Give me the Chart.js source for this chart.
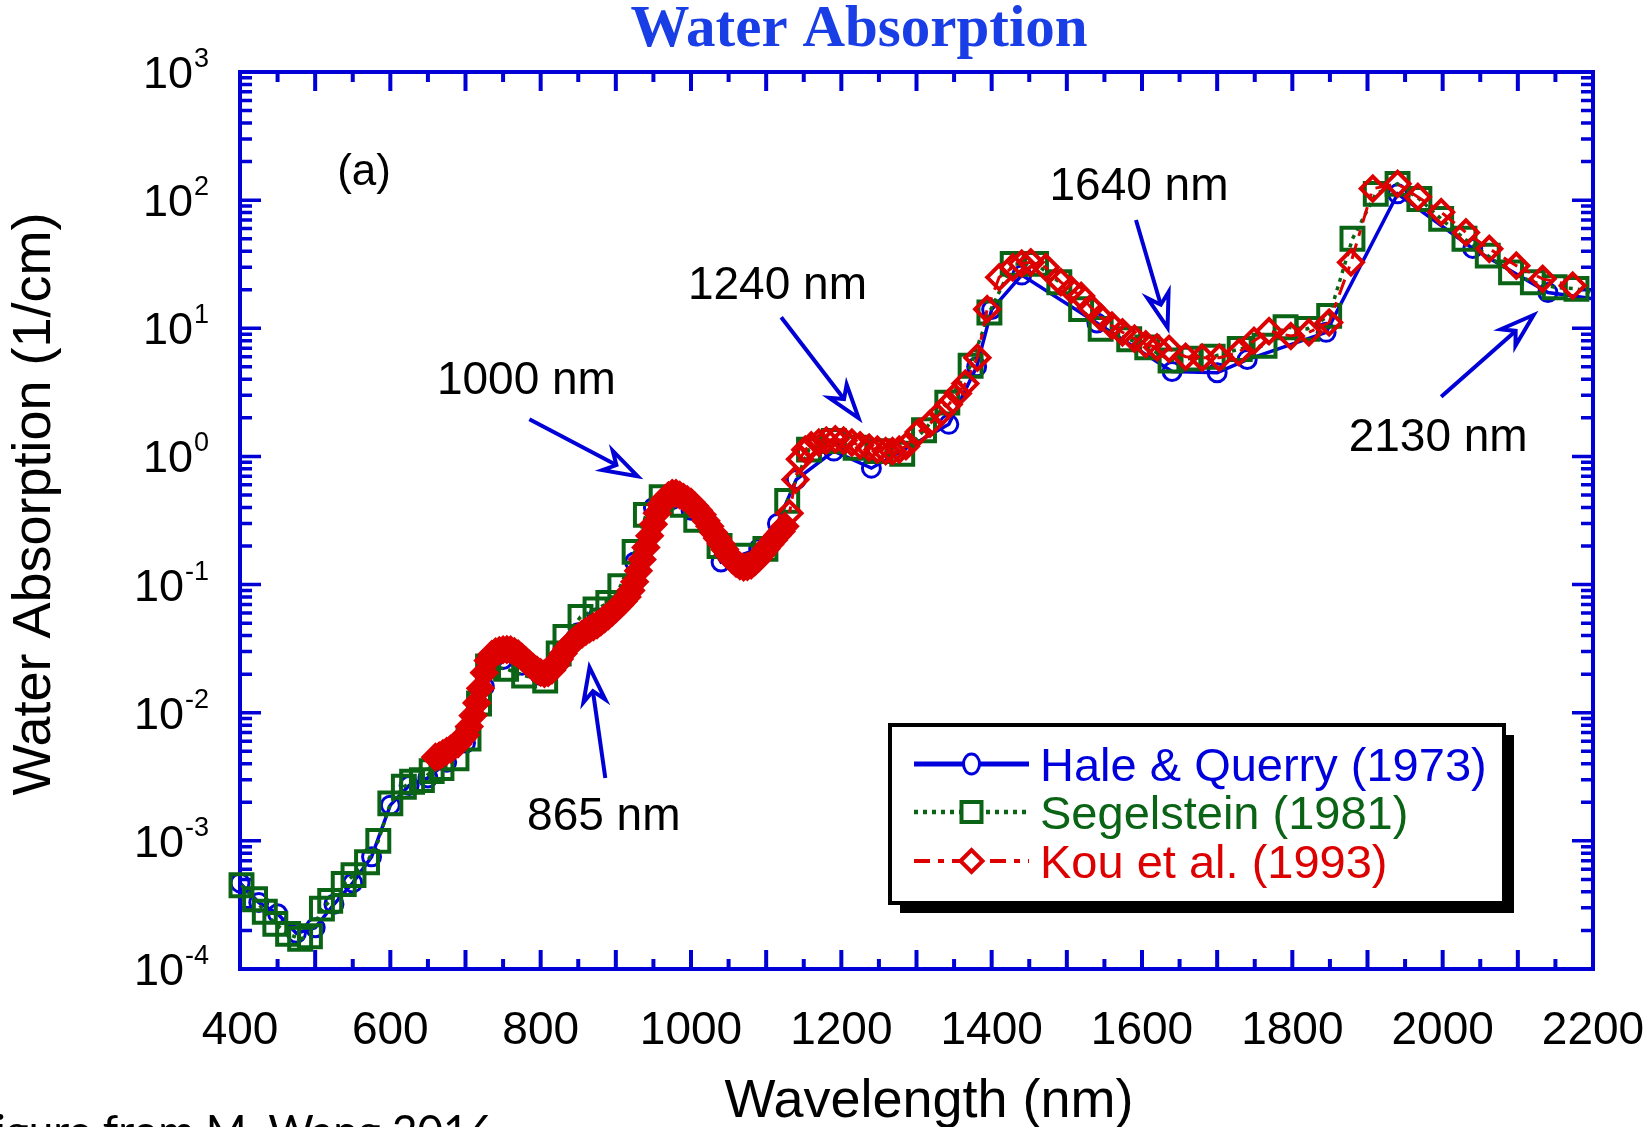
<!DOCTYPE html>
<html><head><meta charset="utf-8">
<script src="https://cdn.jsdelivr.net/npm/chart.js@4.4.0/dist/chart.umd.min.js"></script>
<style>html,body{margin:0;padding:0;background:#fff;overflow:hidden}canvas{display:block}</style>
</head><body>
<canvas id="c" width="1647" height="1127"></canvas>
<script>
// ---------------- data ----------------
const hqWavelength = [400,425,450,475,500,525,550,575,600,625,650,675,700,725,750,775,800,825,850,875,900,925,950,975,1000,1040,1090,1115,1140,1190,1240,1343,1380,1400,1440,1540,1640,1700,1740,1845,1940,2040,2140,2200];
const hqAbsorption = [4.7e-4,3.3e-4,2.7e-4,1.9e-4,2.1e-4,3.2e-4,4.7e-4,7.5e-4,1.9e-3,2.7e-3,3.1e-3,4.1e-3,5.8e-3,0.016,0.026,0.0235,0.0195,0.027,0.042,0.055,0.068,0.15,0.40,0.46,0.38,0.15,0.19,0.30,0.66,1.1,0.81,1.78,5.0,14,26,11,4.6,4.5,5.7,9.3,112,42,19,17];

const segWavelength = [402,420,433,447,464,480,493,509,520,538,551,569,584,600,618,629,642,655,668,688,704,718,730,754,778,806,824,833,853,873,890,906,925,940,961,989,1007,1038,1068,1099,1128,1157,1190,1219,1248,1281,1310,1341,1372,1397,1428,1459,1490,1519,1545,1583,1607,1638,1663,1694,1730,1763,1791,1820,1849,1880,1911,1940,1969,1998,2029,2060,2091,2120,2149,2178,2200];
const segAbsorption = [4.5e-4,3.5e-4,2.8e-4,2.25e-4,1.88e-4,1.72e-4,1.8e-4,2.96e-4,3.4e-4,4.6e-4,5.4e-4,6.8e-4,1.0e-3,1.96e-3,2.64e-3,2.89e-3,2.98e-3,3.5e-3,3.7e-3,4.4e-3,6.3e-3,0.0118,0.023,0.022,0.0195,0.0178,0.029,0.039,0.056,0.064,0.072,0.097,0.18,0.35,0.48,0.42,0.32,0.20,0.168,0.19,0.45,1.13,1.32,1.17,1.10,1.05,1.60,2.63,5.1,13.3,31.8,31.8,22.9,14.1,9.9,8.2,7.1,5.6,5.8,6.0,6.9,7.3,10.2,9.9,12.5,49.9,112,134,102,71.4,49.9,36.9,27.3,22.9,20.9,20.3,19.0];

const kouWavelength = [660,665,670,675,680,685,690,695,700,705,710,715,720,725,730,735,740,745,750,755,760,765,770,775,780,785,790,795,800,805,810,815,820,825,830,835,840,845,850,855,860,865,870,875,880,885,890,895,900,905,910,915,920,925,930,935,940,945,950,955,960,965,970,975,980,985,990,995,1000,1005,1010,1015,1020,1025,1030,1035,1040,1045,1050,1055,1060,1065,1070,1075,1080,1085,1090,1095,1100,1105,1110,1115,1120,1125,1131,1139,1145,1152,1160,1170,1180,1192,1203,1214,1225,1237,1248,1259,1268,1277,1286,1303,1318,1333,1343,1355,1365,1381,1394,1410,1428,1440,1452,1472,1492,1506,1519,1532,1545,1560,1574,1590,1605,1620,1636,1658,1680,1703,1729,1749,1769,1798,1822,1849,1878,1907,1940,1967,1998,2031,2062,2098,2133,2173];
const kouAbsorption = [0.0045,0.0046,0.0048,0.0050,0.0052,0.0055,0.0057,0.0062,0.0067,0.0078,0.0095,0.0119,0.0155,0.0205,0.0255,0.0285,0.0298,0.0305,0.0310,0.0311,0.0310,0.0300,0.0288,0.0272,0.0255,0.0240,0.0226,0.0215,0.0206,0.0202,0.0205,0.0215,0.0235,0.0262,0.0290,0.0318,0.0345,0.0368,0.0390,0.0410,0.0430,0.0450,0.0468,0.0485,0.0510,0.0540,0.0570,0.0605,0.0645,0.0690,0.0740,0.0800,0.0900,0.1050,0.1280,0.1570,0.1950,0.2400,0.2950,0.3600,0.4200,0.4650,0.4950,0.5150,0.5150,0.5000,0.4800,0.4600,0.4400,0.4100,0.3800,0.3500,0.3150,0.2850,0.2550,0.2300,0.2080,0.1880,0.1700,0.1560,0.1460,0.1400,0.1370,0.1380,0.1420,0.1500,0.1610,0.1750,0.1900,0.2060,0.2230,0.2420,0.2600,0.2850,0.36,0.66,0.95,1.13,1.22,1.28,1.33,1.36,1.33,1.28,1.22,1.17,1.13,1.10,1.10,1.13,1.20,1.55,1.80,2.20,2.55,3.10,3.70,5.9,14.1,25,29.9,32,32.7,29.9,22.9,20,17.9,14.5,12.2,10.5,9.3,8.3,7.5,7.1,6.9,6.0,5.9,5.9,6.5,8.0,9.5,8.7,9.3,11.1,32.7,123,134,106,80.6,56,41.7,30.8,24.3,21.5];

const seriesLabels = ['Hale & Querry (1973)','Segelstein (1981)','Kou et al. (1993)'];
const xTickLabels = [400,600,800,1000,1200,1400,1600,1800,2000,2200];
const yTickExponents = [-4,-3,-2,-1,0,1,2,3];

// annotations (data coordinates: wavelength, absorption)
const noteTexts = ['1000 nm','1240 nm','1640 nm','2130 nm','865 nm'];
const noteTextAt = [[781,3.06],[1115,16.9],[1596,100],[1994,1.10],[884,1.21e-3]];
const arrowTail = [[785,1.95],[1120,12.2],[1592,70],[1998,2.92],[886,3.09e-3]];
const arrowTip  = [[929,0.70],[1223,1.99],[1634,10.1],[2121,12.7],[865,0.0226]];
const panelTag = '(a)';
const panelTagAt = [565,132];

// ---------------- styles ----------------
const AXIS = '#0000d6';
const BLUE = '#0000dc';
const GREEN = '#0b6416';
const RED = '#dc0000';
const SANS = '"Liberation Sans", Arial, sans-serif';
const DENSE_END = 1126; // Kou markers drawn filled where they crowd into a band

const toXY = (xs, ys) => xs.map((x, i) => ({x, y: ys[i]}));
const edgeRadius = r => c => (c.raw && c.raw.x >= 2200 ? 0 : r);

const framePlugin = {
  id: 'frame',
  beforeDatasetsDraw(chart) {
    const {ctx, chartArea: a, scales: {x, y}} = chart;
    ctx.save();
    ctx.strokeStyle = AXIS;
    ctx.lineCap = 'butt';
    ctx.lineWidth = 4;
    for (let v = 450; v < 2200; v += 50) {
      const px = x.getPixelForValue(v);
      const len = v % 100 === 0 ? 19 : 10;
      ctx.beginPath();
      ctx.moveTo(px, a.bottom); ctx.lineTo(px, a.bottom - len);
      ctx.moveTo(px, a.top); ctx.lineTo(px, a.top + len);
      ctx.stroke();
    }
    ctx.lineWidth = 3.5;
    for (let e = -4; e <= 3; e++) {
      for (let m = 1; m <= 9; m++) {
        const v = m * Math.pow(10, e);
        if (v > 1000.0001) break;
        const py = y.getPixelForValue(v);
        const len = m === 1 ? 21 : 12;
        ctx.beginPath();
        ctx.moveTo(a.left, py); ctx.lineTo(a.left + len, py);
        ctx.moveTo(a.right, py); ctx.lineTo(a.right - len, py);
        ctx.stroke();
      }
    }
    ctx.lineWidth = 4;
    ctx.strokeRect(a.left, a.top, a.right - a.left, a.bottom - a.top);

    ctx.fillStyle = '#000';
    ctx.font = '46px ' + SANS;
    ctx.textAlign = 'center';
    ctx.textBaseline = 'alphabetic';
    xTickLabels.forEach(v => ctx.fillText(String(v), x.getPixelForValue(v), 1044));
    yTickExponents.forEach(e => {
      const py = y.getPixelForValue(Math.pow(10, e));
      ctx.font = '45px ' + SANS;
      const wBase = ctx.measureText('10').width;
      ctx.font = '27px ' + SANS;
      const ex = String(e);
      const wExp = ctx.measureText(ex).width;
      const right = 209;
      const x0 = right - wExp - wBase - 1;
      ctx.textAlign = 'left';
      ctx.font = '45px ' + SANS;
      ctx.fillText('10', x0, py + 16);
      ctx.font = '27px ' + SANS;
      ctx.fillText(ex, x0 + wBase + 1, py - 5);
    });

    ctx.textAlign = 'center';
    ctx.font = '54px ' + SANS;
    ctx.fillText('Wavelength (nm)', 929, 1117);
    ctx.save();
    ctx.translate(50, 504);
    ctx.rotate(-Math.PI / 2);
    ctx.fillText('Water Absorption (1/cm)', 0, 0);
    ctx.restore();

    ctx.fillStyle = '#1a3ee6';
    ctx.font = 'bold 59px "Liberation Serif", "Times New Roman", serif';
    ctx.fillText('Water Absorption', 859, 46);

    ctx.fillStyle = '#000';
    ctx.textAlign = 'right';
    ctx.font = '44px Lato, "Open Sans", sans-serif';
    ctx.fillText('Figure from M. Wang 2016', 494, 1147);
    ctx.restore();
  },
  afterDatasetsDraw(chart) {
    const {ctx, scales: {x, y}} = chart;
    ctx.save();
    ctx.fillStyle = '#000';
    ctx.font = '46px ' + SANS;
    ctx.textAlign = 'center';
    ctx.textBaseline = 'alphabetic';
    noteTexts.forEach((t, i) => ctx.fillText(t, x.getPixelForValue(noteTextAt[i][0]), y.getPixelForValue(noteTextAt[i][1])));
    ctx.font = '44px ' + SANS;
    ctx.fillText(panelTag, x.getPixelForValue(panelTagAt[0]), y.getPixelForValue(panelTagAt[1]));
    ctx.strokeStyle = AXIS;
    ctx.lineWidth = 4;
    ctx.lineJoin = 'miter';
    arrowTail.forEach((t, i) => {
      const x0 = x.getPixelForValue(t[0]), y0 = y.getPixelForValue(t[1]);
      const x1 = x.getPixelForValue(arrowTip[i][0]), y1 = y.getPixelForValue(arrowTip[i][1]);
      const L = Math.hypot(x1 - x0, y1 - y0);
      const dx = (x1 - x0) / L, dy = (y1 - y0) / L;
      const nx = -dy, ny = dx;
      const hl = 34, hw = 11, notch = 24;
      const bx = x1 - dx * hl, by = y1 - dy * hl;
      const kx = x1 - dx * notch, ky = y1 - dy * notch;
      ctx.beginPath();
      ctx.moveTo(x0, y0); ctx.lineTo(kx, ky);
      ctx.stroke();
      ctx.beginPath();
      ctx.moveTo(x1, y1);
      ctx.lineTo(bx + nx * hw, by + ny * hw);
      ctx.lineTo(kx, ky);
      ctx.lineTo(bx - nx * hw, by - ny * hw);
      ctx.closePath();
      ctx.fillStyle = '#fff';
      ctx.fill();
      ctx.stroke();
    });

    // legend
    const L0 = 890, T0 = 725, W0 = 614, H0 = 178;
    ctx.fillStyle = '#000';
    ctx.beginPath();
    ctx.moveTo(L0 + 10, T0 + H0); ctx.lineTo(L0 + W0, T0 + H0);
    ctx.lineTo(L0 + W0, T0 + 10); ctx.lineTo(L0 + W0 + 10, T0 + 10);
    ctx.lineTo(L0 + W0 + 10, T0 + H0 + 10); ctx.lineTo(L0 + 10, T0 + H0 + 10);
    ctx.closePath(); ctx.fill();
    ctx.fillStyle = '#fff';
    ctx.fillRect(L0, T0, W0, H0);
    ctx.strokeStyle = '#000';
    ctx.lineWidth = 4;
    ctx.strokeRect(L0, T0, W0, H0);
    const rows = [764, 812, 861];
    const legendLineWidths = [5, 4.5, 4];
    chart.data.datasets.forEach((ds, i) => {
      const cy = rows[i];
      ctx.strokeStyle = ds.borderColor;
      ctx.lineWidth = legendLineWidths[i];
      ctx.setLineDash(ds.borderDash || []);
      ctx.beginPath(); ctx.moveTo(914, cy); ctx.lineTo(1029, cy); ctx.stroke();
      ctx.setLineDash([]);
      ctx.lineWidth = ds.pointBorderWidth;
      const cx = 971.5, r = 11;
      ctx.beginPath();
      if (ds.pointStyle === 'circle') ctx.ellipse(cx, cy, 8, 10, 0, 0, Math.PI * 2);
      else if (ds.pointStyle === 'rect') { ctx.rect(cx - 10, cy - 10, 20, 20); }
      else { ctx.moveTo(cx - r, cy); ctx.lineTo(cx, cy - r); ctx.lineTo(cx + r, cy); ctx.lineTo(cx, cy + r); ctx.closePath(); }
      ctx.fillStyle = '#fff'; ctx.fill(); ctx.stroke();
      ctx.fillStyle = ds.borderColor;
      ctx.font = '47px ' + SANS;
      ctx.textAlign = 'left';
      ctx.fillText(ds.label, 1040, cy + 17);
    });
    ctx.restore();
  }
};

new Chart(document.getElementById('c').getContext('2d'), {
  type: 'line',
  data: {
    datasets: [
      {label: seriesLabels[0], data: toXY(hqWavelength, hqAbsorption), borderColor: BLUE, borderWidth: 3.5,
       pointStyle: 'circle', pointRadius: edgeRadius(9), pointBorderWidth: 3, pointBorderColor: BLUE, pointBackgroundColor: 'rgba(0,0,0,0)',
       tension: 0, fill: false, order: 3, clip: false},
      {label: seriesLabels[1], data: toXY(segWavelength, segAbsorption), borderColor: GREEN, borderWidth: 3.5, borderDash: [4, 5],
       pointStyle: 'rect', pointRadius: edgeRadius(15.5), pointBorderWidth: 4, pointBorderColor: GREEN, pointBackgroundColor: 'rgba(0,0,0,0)',
       tension: 0, fill: false, order: 2, clip: false},
      {label: seriesLabels[2], data: toXY(kouWavelength, kouAbsorption), borderColor: RED, borderWidth: 3, borderDash: [16, 8, 6, 8],
       pointStyle: 'rectRot', pointRadius: 12, pointBorderWidth: 4, pointBorderColor: RED,
       pointBackgroundColor: c => (c.raw && c.raw.x <= DENSE_END ? RED : 'rgba(0,0,0,0)'),
       tension: 0, fill: false, order: 1, clip: false}
    ]
  },
  options: {
    responsive: false,
    animation: false,
    devicePixelRatio: 1,
    events: [],
    layout: {padding: {left: 240, right: 54, top: 72, bottom: 158}},
    scales: {
      x: {type: 'linear', min: 400, max: 2200, display: false},
      y: {type: 'logarithmic', min: 1e-4, max: 1e3, display: false}
    },
    plugins: {legend: {display: false}, tooltip: {enabled: false}, title: {display: false}}
  },
  plugins: [framePlugin]
});
</script>
</body></html>
